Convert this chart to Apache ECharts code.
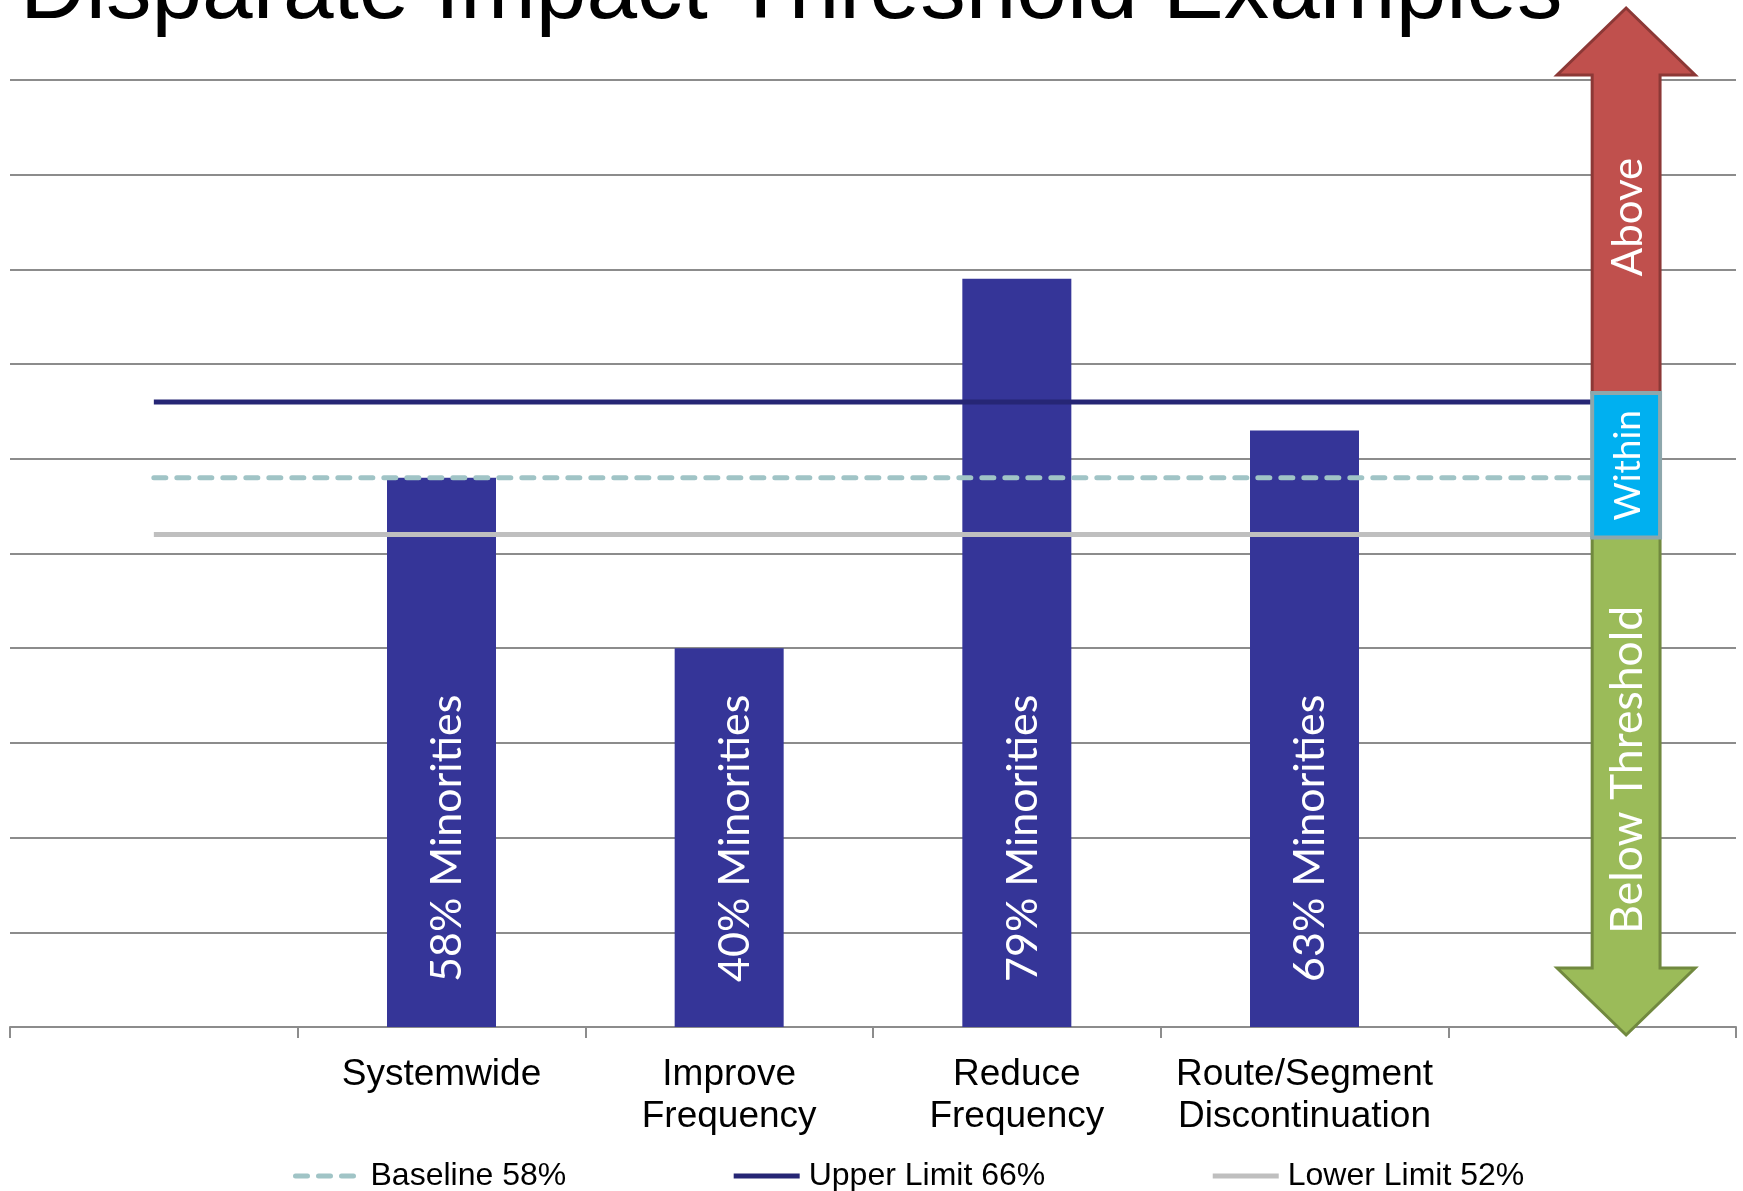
<!DOCTYPE html>
<html>
<head>
<meta charset="utf-8">
<script src="https://cdn.jsdelivr.net/npm/echarts@6/dist/echarts.min.js"></script>
<style>
html,body{margin:0;padding:0;background:#fff;}
#chart{width:1743px;height:1191px;}
</style>
</head>
<body>
<div id="chart"></div>
<script>
// ---- data ----
const categories = ['', 'Systemwide', 'Improve\nFrequency', 'Reduce\nFrequency', 'Route/Segment\nDiscontinuation', ''];
const minorityShare = [null, 58, 40, 79, 63, null];
const barLabels = ['', '58% Minorities', '40% Minorities', '79% Minorities', '63% Minorities', ''];
const baselineValues = [58, 58, 58, 58, 58, 58];
const upperLimitValues = [66, 66, 66, 66, 66, 66];
const lowerLimitValues = [52, 52, 52, 52, 52, 52];
const seriesNames = ['Baseline 58%', 'Upper Limit 66%', 'Lower Limit 52%'];
const zoneLabels = ['Above', 'Within', 'Below Threshold'];
const arrowCategoryIndex = 5;
const yTicks = {min: 0, max: 100, interval: 10};

const chart = echarts.init(document.getElementById('chart'));

function renderArrow(params, api) {
  const ci = api.value(0);
  const up = api.value(1);
  const lo = api.value(2);
  const band = api.size([1, 0])[0];
  const cx = api.coord([ci, 0])[0] + band * 0.118;
  const half = band * 0.118;
  const headHalf = band * 0.24;
  const yUp = api.coord([ci, up])[1];
  const yLo = api.coord([ci, lo])[1];
  const yTop = api.coord([ci, yTicks.max])[1];
  const yBot = api.coord([ci, yTicks.min])[1];
  const headLen = 67;
  const topBase = yTop - 5;
  const topTip = topBase - headLen;
  const botBase = yBot - 59;
  const botTip = botBase + headLen;
  const boxTop = yUp - 9;
  const boxBot = yLo + 3;
  const labelFont = 'Lato';
  return {
    type: 'group',
    children: [
      {
        type: 'polygon',
        shape: {points: [[cx - half, boxTop], [cx - half, topBase], [cx - headHalf, topBase], [cx, topTip], [cx + headHalf, topBase], [cx + half, topBase], [cx + half, boxTop]]},
        style: {fill: '#C0504D', stroke: '#8C3836', lineWidth: 3, lineJoin: 'miter'}
      },
      {
        type: 'polygon',
        shape: {points: [[cx - half, boxBot], [cx - half, botBase], [cx - headHalf, botBase], [cx, botTip], [cx + headHalf, botBase], [cx + half, botBase], [cx + half, boxBot]]},
        style: {fill: '#9BBB59', stroke: '#71893F', lineWidth: 3, lineJoin: 'miter'}
      },
      {
        type: 'rect',
        shape: {x: cx - half, y: boxTop, width: half * 2, height: boxBot - boxTop},
        style: {fill: '#00B0F0', stroke: '#8DA7AC', lineWidth: 4}
      },
      {
        type: 'text', x: cx + 2, y: (yUp + topTip) / 2 + 12, rotation: Math.PI / 2,
        style: {text: zoneLabels[0], fill: '#fff', fontSize: 42, fontFamily: labelFont, align: 'center', verticalAlign: 'middle'}
      },
      {
        type: 'text', x: cx + 2, y: (boxTop + boxBot) / 2, rotation: Math.PI / 2,
        style: {text: zoneLabels[1], fill: '#fff', fontSize: 37, fontFamily: labelFont, align: 'center', verticalAlign: 'middle'}
      },
      {
        type: 'text', x: cx + 2, y: (yLo + botTip) / 2 - 15, rotation: Math.PI / 2,
        style: {text: zoneLabels[2], fill: '#fff', fontSize: 44.5, fontFamily: labelFont, align: 'center', verticalAlign: 'middle'}
      }
    ]
  };
}

const option = {
  animation: false,
  backgroundColor: '#fff',
  title: {
    text: 'Disparate Impact Threshold Examples',
    left: 15,
    top: -58,
    textStyle: {fontSize: 91, fontFamily: 'Liberation Sans', fontWeight: 'normal', color: '#000', lineHeight: 91}
  },
  grid: {left: 10, right: 7, top: 80, bottom: 164, containLabel: false},
  legend: {
    left: 293,
    top: 1160,
    padding: 0,
    itemGap: 165,
    itemWidth: 66,
    itemHeight: 14,
    itemStyle: {opacity: 0},
    lineStyle: {width: 5},
    textStyle: {fontSize: 32, fontFamily: 'Liberation Sans', color: '#000', padding: [0, 0, 0, 4], lineHeight: 32},
    data: seriesNames
  },
  xAxis: {
    type: 'category',
    data: categories,
    boundaryGap: true,
    axisLine: {lineStyle: {color: '#8c8c8c', width: 2}},
    axisTick: {show: true, length: 11, interval: 0, lineStyle: {color: '#8c8c8c', width: 2}},
    axisLabel: {interval: 0, fontSize: 37, lineHeight: 42, margin: 27, color: '#000', fontFamily: 'Liberation Sans'},
    splitLine: {show: false}
  },
  yAxis: {
    type: 'value',
    min: yTicks.min,
    max: yTicks.max,
    interval: yTicks.interval,
    axisLabel: {show: false},
    axisLine: {show: false},
    axisTick: {show: false},
    splitLine: {show: true, lineStyle: {color: '#8c8c8c', width: 2}}
  },
  series: [
    {
      type: 'bar',
      name: 'Minorities',
      data: minorityShare,
      barWidth: 109,
      itemStyle: {color: '#353598'},
      z: 2,
      label: {
        show: true,
        position: 'insideBottom',
        rotate: 90,
        align: 'left',
        verticalAlign: 'middle',
        distance: 45,
        offset: [0, 6],
        color: '#fff',
        fontSize: 43,
        fontFamily: 'Lato',
        formatter: p => barLabels[p.dataIndex]
      }
    },
    {
      type: 'line', name: seriesNames[0], data: baselineValues, symbol: 'none', z: 3,
      lineStyle: {color: '#A0C4C6', width: 5, type: [12, 11], cap: 'round'},
      itemStyle: {color: '#A0C4C6'}
    },
    {
      type: 'line', name: seriesNames[1], data: upperLimitValues, symbol: 'none', z: 3,
      lineStyle: {color: '#262675', width: 5},
      itemStyle: {color: '#262675'}
    },
    {
      type: 'line', name: seriesNames[2], data: lowerLimitValues, symbol: 'none', z: 3,
      lineStyle: {color: '#BFBFBF', width: 5},
      itemStyle: {color: '#BFBFBF'}
    },
    {
      type: 'custom',
      name: 'zones',
      clip: false,
      z: 5,
      renderItem: renderArrow,
      data: [[arrowCategoryIndex, upperLimitValues[arrowCategoryIndex], lowerLimitValues[arrowCategoryIndex]]]
    }
  ]
};
chart.setOption(option);
</script>
</body>
</html>
